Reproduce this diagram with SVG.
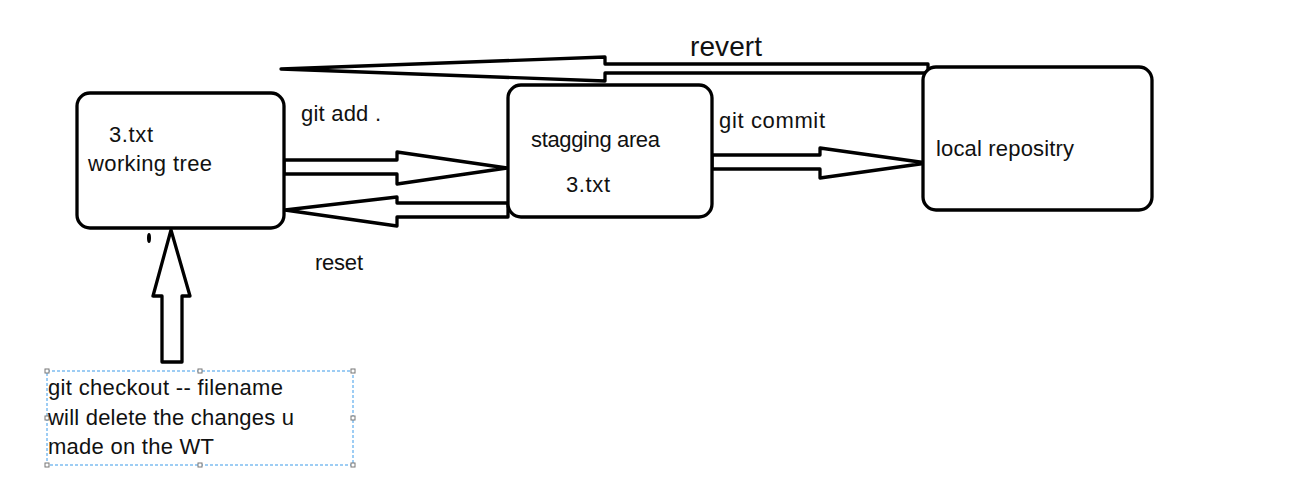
<svg xmlns="http://www.w3.org/2000/svg" width="1299" height="494" viewBox="0 0 1299 494">
<style>
.box{fill:#fff;stroke:#000;stroke-width:3.3}
.arr{fill:#fff;stroke:#000;stroke-width:3.3;stroke-linejoin:round}
.t{font-family:"Liberation Sans",Arial,sans-serif;font-size:22px;fill:#111}
.handle{fill:#fff;stroke:#777;stroke-width:1}
</style>
<rect width="1299" height="494" fill="#fff"/>
<g id="connectors">
<polygon class="arr" points="928,64 605,64 605,57 281,69 605,81 605,73 928,73"/>
<polygon class="arr" points="284,160 397,160 397,152 507,168 397,184 397,174 284,174"/>
<polygon class="arr" points="508,203 397,203 397,197 285,210 397,226 397,217 508,217"/>
<polygon class="arr" points="712,155 820,155 820,148 927,163 820,178 820,169 712,169"/>
<polygon class="arr" points="162,362 182,362 182,296 190,296 171,230 153,296 162,296"/>
<ellipse cx="149" cy="238" rx="2" ry="5" fill="#000"/>
<text class="t" x="690" y="56" style="font-size:28px" textLength="72">revert</text>
<text class="t" x="301" y="121" textLength="80">git add .</text>
<text class="t" x="719" y="128" textLength="106">git commit</text>
<text class="t" x="315" y="270" textLength="48">reset</text>
</g>
<g id="working-tree">
<rect class="box" x="77" y="93" width="207" height="135" rx="13"/>
<text class="t" x="109" y="142" textLength="44">3.txt</text>
<text class="t" x="88" y="171" textLength="124">working tree</text>
</g>
<g id="staging-area">
<rect class="box" x="508" y="85" width="204" height="132" rx="13"/>
<text class="t" x="531" y="147" textLength="129">stagging area</text>
<text class="t" x="566" y="192" textLength="44">3.txt</text>
</g>
<g id="local-repository">
<rect class="box" x="923" y="67" width="229" height="143" rx="13"/>
<text class="t" x="936" y="156" textLength="138">local repositry</text>
</g>
<g id="checkout-note">
<rect x="47" y="371" width="306" height="94" fill="none" stroke="#3d9be9" stroke-width="1" stroke-dasharray="3 2"/>
<rect class="handle" x="45" y="369" width="4" height="4"/>
<rect class="handle" x="198" y="369" width="4" height="4"/>
<rect class="handle" x="351" y="369" width="4" height="4"/>
<rect class="handle" x="45" y="416" width="4" height="4"/>
<rect class="handle" x="351" y="416" width="4" height="4"/>
<rect class="handle" x="45" y="463" width="4" height="4"/>
<rect class="handle" x="198" y="463" width="4" height="4"/>
<rect class="handle" x="351" y="463" width="4" height="4"/>
<text class="t" x="48" y="395" textLength="235">git checkout -- filename</text>
<text class="t" x="48" y="425" textLength="246">will delete the changes u</text>
<text class="t" x="48" y="454" textLength="166">made on the WT</text>
</g>
</svg>
